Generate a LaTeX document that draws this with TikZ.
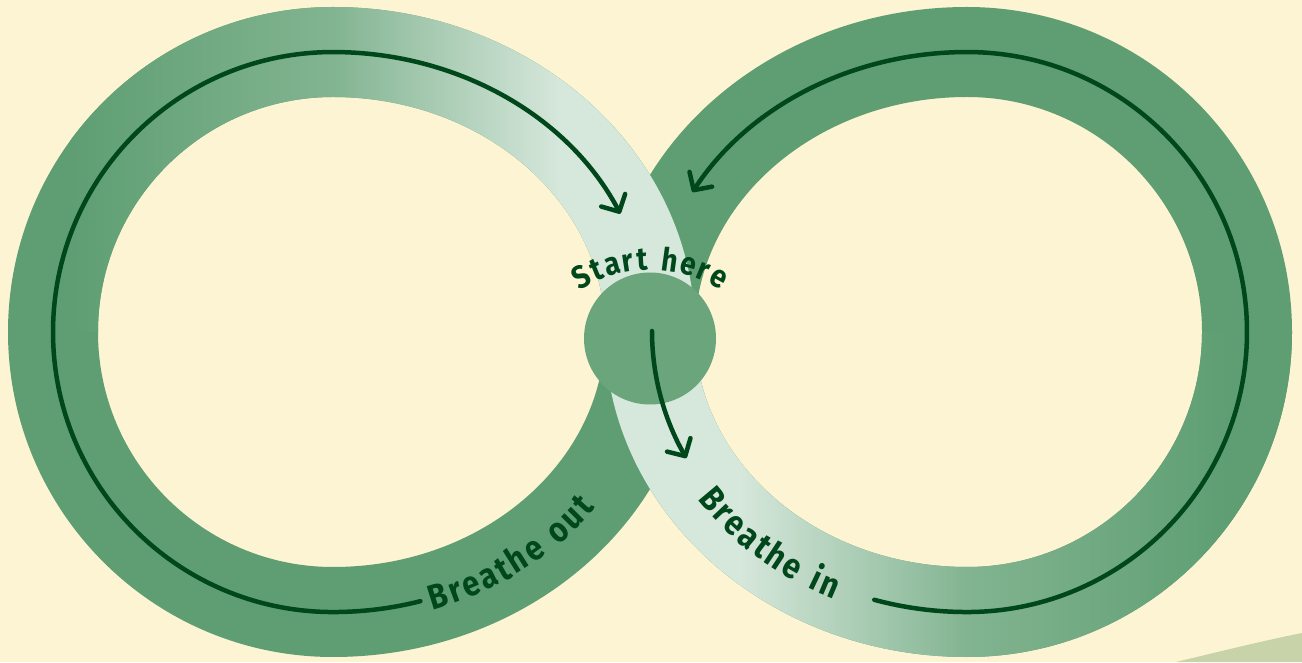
\documentclass[tikz,border=0pt]{standalone}
\usepackage{fontspec}
\newfontfamily\hand{Fira Sans}[FakeStretch=0.88]
\usetikzlibrary{arrows.meta,decorations.text}
\definecolor{cream}{HTML}{FDF4D3}
\definecolor{bandg}{HTML}{5E9E72}
\definecolor{midg}{HTML}{82B491}
\definecolor{lightg}{HTML}{D6E7DB}
\definecolor{circg}{HTML}{6BA57C}
\definecolor{ink}{HTML}{00471C}
\definecolor{blob}{HTML}{C8D3A9}
\begin{document}
\begin{tikzpicture}[x=1pt,y=1pt,
  breathline/.style={draw=ink, line width=4.5pt, line cap=round,
    -{Straight Barb[length=13pt,width=27pt,round]}},
  labeltext/.style={decorate, decoration={text along path, text align=center, raise=#1}}]
\useasboundingbox (0,0) rectangle (1302,662);
\fill[cream] (0,0) rectangle (1302,662);
\fill[blob] (1176,0) .. controls (1222,11) and (1262,21) .. (1302,29) -- (1302,0) -- cycle;
% full rings (dark)
\def\LOuter{(333,655) arc[start angle=90,end angle=270,radius=325pt] arc[start angle=-90,end angle=90,x radius=362pt,y radius=325pt] -- cycle}
\def\LInner{(333,565) arc[start angle=90,end angle=270,radius=235pt] arc[start angle=-90,end angle=90,x radius=272pt,y radius=235pt] -- cycle}
\def\ROuter{(967,5) arc[start angle=-90,end angle=90,radius=325pt] arc[start angle=90,end angle=270,x radius=362pt,y radius=325pt] -- cycle}
\def\RInner{(967,95) arc[start angle=-90,end angle=90,radius=235pt] arc[start angle=90,end angle=270,x radius=272pt,y radius=235pt] -- cycle}
\fill[bandg, even odd rule] \LOuter \LInner;
\fill[bandg, even odd rule] \ROuter \RInner;
% gradient quarters
\begin{scope}
\clip (333,655) arc[start angle=90,end angle=180,radius=325pt] -- (98,330) arc[start angle=180,end angle=90,radius=235pt] -- cycle;
\shade[left color=bandg, right color=midg] (70,0) rectangle (333,662);
\end{scope}
\begin{scope}
\clip (967,5) arc[start angle=-90,end angle=0,radius=325pt] -- (1202,330) arc[start angle=0,end angle=-90,radius=235pt] -- cycle;
\shade[left color=midg, right color=bandg] (967,0) rectangle (1230,662);
\fill[bandg] (1229.5,0) rectangle (1300,662);
\end{scope}
\begin{scope}
\clip (333,655) arc[start angle=90,end angle=0,x radius=362pt,y radius=325pt] -- (605,330) arc[start angle=0,end angle=90,x radius=272pt,y radius=235pt] -- cycle;
\shade[left color=midg, right color=lightg] (333,0) rectangle (560,662);
\fill[lightg] (559.5,0) rectangle (700,662);
\end{scope}
\begin{scope}
\clip (967,5) arc[start angle=270,end angle=180,x radius=362pt,y radius=325pt] -- (695,330) arc[start angle=180,end angle=270,x radius=272pt,y radius=235pt] -- cycle;
\fill[lightg] (600,0) rectangle (740.5,662);
\shade[left color=lightg, right color=midg] (740,0) rectangle (967,662);
\end{scope}
% centre disc
\node[circle, fill=circg, minimum size=132pt, inner sep=0pt] (hub) at (650,323.5) {};
% coordinates
\coordinate (outStart) at (420.4,60.8);
\coordinate (inStart) at (874.3,62.2);
\coordinate (hubStart) at (652,331);
% breathing lines
\draw[breathline] (outStart) arc[start angle=-74,end angle=-90,x radius=317pt,y radius=280pt]
  arc[start angle=270,end angle=90,radius=280pt]
  arc[start angle=90,end angle=25,x radius=317pt,y radius=280pt];
\draw[breathline] (inStart) arc[start angle=253,end angle=270,x radius=317pt,y radius=280pt]
  arc[start angle=-90,end angle=90,radius=280pt]
  arc[start angle=90,end angle=150,x radius=317pt,y radius=280pt];
\draw[breathline] (hubStart) arc[start angle=180,end angle=207,x radius=315pt,y radius=280pt];
% labels
\path[labeltext=0pt, decoration={text={|\hand\bfseries\fontsize{32}{38}\selectfont\color{ink}|S{\kern2pt}t{\kern2pt}a{\kern2pt}r{\kern2pt}t{\kern12pt}h{\kern2pt}e{\kern2pt}r{\kern2pt}e}}]
  (564.5,361) arc[start angle=130,end angle=50,radius=133pt];
\path[labeltext=-12pt, decoration={text={|\hand\bfseries\fontsize{35}{42}\selectfont\color{ink}|B{\kern2pt}r{\kern2pt}e{\kern2pt}a{\kern2pt}t{\kern2pt}h{\kern2pt}e{\kern13pt}o{\kern2pt}u{\kern2pt}t}}]
  (333,50) arc[start angle=-90,end angle=-17.5,x radius=317pt,y radius=280pt];
\path[labeltext=-12pt, decoration={text={|\hand\bfseries\fontsize{35}{42}\selectfont\color{ink}|B{\kern2pt}r{\kern2pt}e{\kern2pt}a{\kern2pt}t{\kern2pt}h{\kern2pt}e{\kern13pt}i{\kern2pt}n}}]
  (660.8,257.5) arc[start angle=195,end angle=264,x radius=317pt,y radius=280pt];
\end{tikzpicture}
\end{document}
